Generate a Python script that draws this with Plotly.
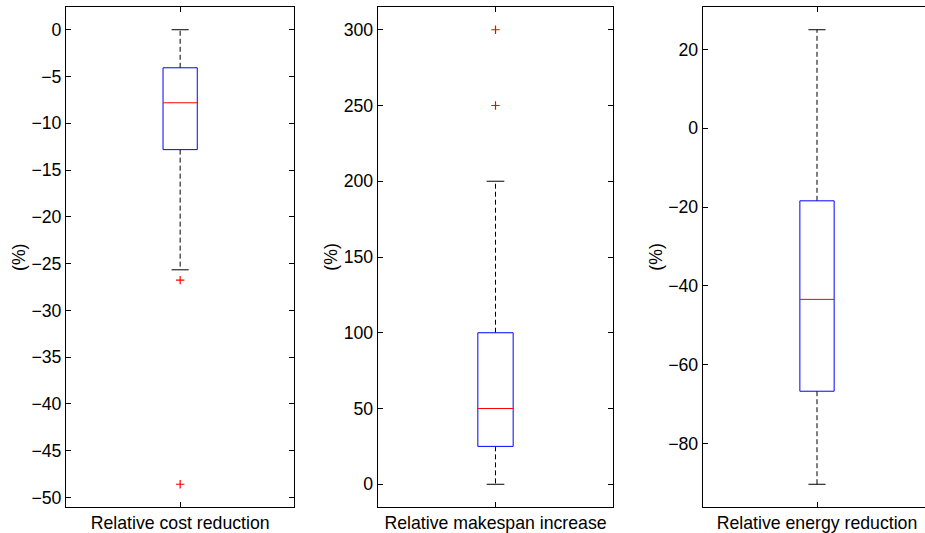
import plotly.graph_objects as go

# ---- data ----
categories = ["Relative cost reduction", "Relative makespan increase", "Relative energy reduction"]
lower_whisker = [-25.67, 0.0, -90.3]
q1_vals = [-12.82, 25.0, -66.7]
median_vals = [-7.81, 50.0, -43.4]
q3_vals = [-4.07, 100.0, -18.4]
upper_whisker = [0.0, 200.0, 25.0]
outliers_cost = [-26.77, -48.6]
outliers_makespan = [250.0, 300.0]
outliers_energy = []
outliers = [outliers_cost, outliers_makespan, outliers_energy]
y_ticks = [list(range(-50, 1, 5)), list(range(0, 301, 50)), list(range(-80, 21, 20))]
y_label = "(%)"

# ---- layout geometry ----
W, H = 925, 533
panel_px = [(66.0, 294.3), (377.7, 613.3), (702.7, 925.0)]
full_width_p3 = 228.6  # the third axes extends past the right edge of the picture
top_px, bottom_px = 7.0, 507.3
box_w = 0.15
cap_w = 0.075
FONT = "Liberation Sans, Arial, Helvetica, sans-serif"
FS = 17.7
BLUE = "#0000ff"
RED = "#ff0000"

fig = go.Figure()
layout = dict(
    width=W, height=H,
    margin=dict(l=0, r=0, t=top_px, b=H - bottom_px, pad=0),
    paper_bgcolor="white", plot_bgcolor="white",
    showlegend=False, template="none",
    font=dict(family=FONT, size=FS, color="black"),
    annotations=[],
)

for i, cat in enumerate(categories):
    xa = "x" if i == 0 else f"x{i+1}"
    ya = "y" if i == 0 else f"y{i+1}"
    xkey = "xaxis" if i == 0 else f"xaxis{i+1}"
    ykey = "yaxis" if i == 0 else f"yaxis{i+1}"
    xc = 1.0
    xl, xr_ = xc - box_w / 2, xc + box_w / 2

    # whiskers (dashed black)
    fig.add_trace(go.Scatter(
        x=[xc, xc, None, xc, xc],
        y=[q3_vals[i], upper_whisker[i], None, q1_vals[i], lower_whisker[i]],
        mode="lines", line=dict(color="black", width=1, dash="5px,3px"),
        xaxis=xa, yaxis=ya, hoverinfo="skip",
    ))
    # whisker caps
    fig.add_trace(go.Scatter(
        x=[xc - cap_w / 2, xc + cap_w / 2, None, xc - cap_w / 2, xc + cap_w / 2],
        y=[upper_whisker[i], upper_whisker[i], None, lower_whisker[i], lower_whisker[i]],
        mode="lines", line=dict(color="black", width=1),
        xaxis=xa, yaxis=ya, hoverinfo="skip",
    ))
    # box (blue outline, q1..q3)
    fig.add_trace(go.Scatter(
        x=[xl, xr_, xr_, xl, xl],
        y=[q1_vals[i], q1_vals[i], q3_vals[i], q3_vals[i], q1_vals[i]],
        mode="lines", line=dict(color=BLUE, width=1),
        xaxis=xa, yaxis=ya, hoverinfo="skip",
    ))
    # median (red)
    fig.add_trace(go.Scatter(
        x=[xl, xr_], y=[median_vals[i], median_vals[i]],
        mode="lines", line=dict(color=RED, width=1),
        xaxis=xa, yaxis=ya, hoverinfo="skip",
    ))
    # outliers (red '+')
    if outliers[i]:
        fig.add_trace(go.Scatter(
            x=[xc] * len(outliers[i]), y=outliers[i], mode="markers",
            marker=dict(symbol="cross-thin-open", size=6, color=RED, opacity=1,
                        line=dict(color=RED, width=1.2)),
            xaxis=xa, yaxis=ya, hoverinfo="skip", cliponaxis=False,
        ))

    # axis ranges: data extent padded by 5 %
    all_vals = [lower_whisker[i], upper_whisker[i]] + outliers[i]
    lo, hi = min(all_vals), max(all_vals)
    pad = 0.05 * (hi - lo)

    x0, x1 = panel_px[i]
    if i == 2:
        xr = [0.5, 0.5 + (x1 - x0) / full_width_p3]
    else:
        xr = [0.5, 1.5]

    layout[xkey] = dict(
        domain=[x0 / W, x1 / W], range=xr, anchor=ya,
        tickvals=[xc], ticktext=[cat], ticks="inside", ticklen=5, tickcolor="black",
        showline=True, linecolor="black", linewidth=1, mirror="ticks",
        showgrid=False, zeroline=False, tickfont=dict(family=FONT, size=FS, color="black"),
        fixedrange=True,
    )
    layout[ykey] = dict(
        domain=[0, 1], range=[lo - pad, hi + pad], anchor=xa,
        tickvals=y_ticks[i], ticks="inside", ticklen=5, tickcolor="black",
        showline=True, linecolor="black", linewidth=1,
        mirror=("ticks" if i < 2 else False),
        showgrid=False, zeroline=False, tickfont=dict(family=FONT, size=FS, color="black"),
        fixedrange=True,
    )
    layout["annotations"].append(dict(
        text=y_label, textangle=-90, showarrow=False,
        xref="paper", yref="paper", x=x0 / W, y=0.5,
        xanchor="center", yanchor="middle", xshift=-47,
        font=dict(family=FONT, size=FS, color="black"),
    ))

fig.update_layout(**layout)
fig.write_html("out.html")
